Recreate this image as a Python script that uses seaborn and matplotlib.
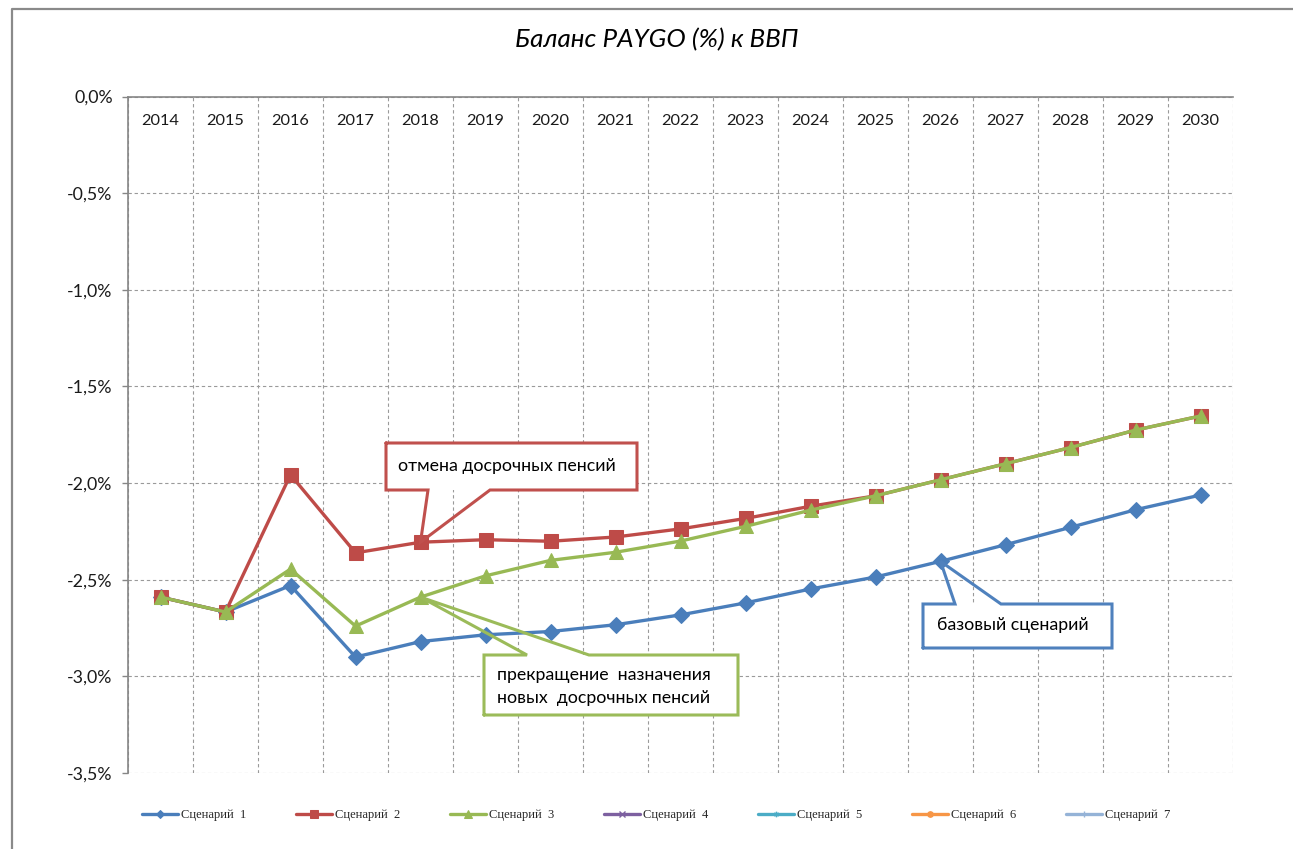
import numpy as np
import pandas as pd
import matplotlib
matplotlib.use("Agg")
import matplotlib.pyplot as plt
import seaborn as sns
from matplotlib.patches import Rectangle
from matplotlib.lines import Line2D

# ---------------- data ----------------
years = [str(y) for y in range(2014, 2031)]
scenario1 = [-2.59, -2.667, -2.53, -2.90, -2.82, -2.785, -2.768, -2.733, -2.682,
             -2.62, -2.548, -2.486, -2.405, -2.319, -2.229, -2.138, -2.062]
scenario2 = [-2.59, -2.667, -1.957, -2.361, -2.306, -2.293, -2.301, -2.279, -2.237,
             -2.183, -2.12, -2.066, -1.983, -1.90, -1.816, -1.726, -1.653]
scenario3 = [-2.59, -2.667, -2.445, -2.74, -2.59, -2.48, -2.40, -2.358, -2.30,
             -2.224, -2.14, -2.066, -1.983, -1.90, -1.816, -1.726, -1.653]
# scenarios 4-7 appear only in the legend (no visible data)
scenario4 = []
scenario5 = []
scenario6 = []
scenario7 = []

series_names = ["Сценарий  1", "Сценарий  2", "Сценарий  3", "Сценарий  4",
                "Сценарий  5", "Сценарий  6", "Сценарий  7"]
y_ticks = [0.0, -0.5, -1.0, -1.5, -2.0, -2.5, -3.0, -3.5]
title = "Баланс PAYGO (%) к ВВП"

# ---------------- style ----------------
sns.set_theme(style="white")
plt.rcParams['font.family'] = ['Lato', 'Open Sans', 'DejaVu Sans']

W, H = 1293, 849
fig = plt.figure(figsize=(W / 100, H / 100), dpi=100)
fig.patch.set_facecolor("white")

def px(x, y):
    return (x / W, 1 - y / H)

ax_l, ax_r, ax_t, ax_b = 128, 1233, 96.5, 773
ax = fig.add_axes([ax_l / W, 1 - ax_b / H, (ax_r - ax_l) / W, (ax_b - ax_t) / H])
ax.set_facecolor("white")

colors = ["#4A7EBB", "#BE4B48", "#98B954", "#7D60A0", "#4BACC6", "#F79646", "#95B3D7"]
markers = ["D", "s", "^", "x", (6, 2, 0), "o", "|"]
msizes = [7.8, 9.5, 10.5, 7, 7, 7, 7]

df = pd.DataFrame({"pos": np.arange(len(years)), "year": years,
                   "s1": scenario1, "s2": scenario2, "s3": scenario3})

for i, col in enumerate(["s1", "s2", "s3"]):
    sns.lineplot(data=df, x="pos", y=col, ax=ax, color=colors[i], marker=markers[i],
                 markersize=msizes[i], markeredgecolor=colors[i], linewidth=2.4,
                 label=series_names[i], zorder=3 + i * 0.1, legend=False)

empty = [scenario4, scenario5, scenario6, scenario7]
for j, vals in enumerate(empty):
    k = j + 3
    ax.plot(list(range(len(vals))), vals, color=colors[k], marker=markers[k],
            markersize=msizes[k], linewidth=2.4, label=series_names[k])

ax.set_xlim(-0.5, len(years) - 0.5)
ax.set_ylim(-3.5, 0)
ax.set_xlabel("")
ax.set_ylabel("")

# x axis at top (0 %), labels just under it
ax.set_xticks(np.arange(len(years)))
ax.set_xticklabels(years)
ax.set_xticks(np.arange(len(years) + 1) - 0.5, minor=True)
ax.tick_params(axis="x", which="major", top=False, bottom=False, labeltop=True,
               labelbottom=False, pad=-29, labelsize=11.8, colors="#1a1a1a")
ax.tick_params(axis="x", which="minor", top=False, bottom=False, length=0)

ax.set_yticks(y_ticks)
ax.set_yticklabels([f"{v:.1f}%".replace(".", ",") for v in y_ticks])
ax.tick_params(axis="y", which="major", left=True, length=4, width=1,
               color="#868686", pad=7, labelsize=12.8, labelcolor="#1a1a1a")

grid_kw = dict(color="#9a9a9a", linewidth=0.8, linestyle=(0, (3, 2.5)))
ax.grid(False)
ax.xaxis.grid(True, which="minor", **grid_kw)
ax.yaxis.grid(True, which="major", **grid_kw)
ax.set_axisbelow(True)

for s in ["bottom", "right"]:
    ax.spines[s].set_visible(False)
for s in ["top", "left"]:
    ax.spines[s].set_color("#868686")
    ax.spines[s].set_linewidth(1.2)

# title
fig.text(*px(657, 40), title, ha="center", va="center", fontsize=18.7,
         style="italic", color="#000000")

# legend
handles, labels = ax.get_legend_handles_labels()
order = [labels.index(n) for n in series_names]
leg = fig.legend([handles[i] for i in order], [labels[i] for i in order],
                 loc="center", bbox_to_anchor=px(656, 815), ncol=7, frameon=False,
                 prop={"family": "Liberation Serif", "size": 9},
                 handlelength=2.9, handletextpad=0.2, columnspacing=4.0,
                 markerscale=0.55)

# callouts
inv = fig.transFigure.inverted()

def tip(i, vals):
    return inv.transform(ax.transData.transform((i, vals[i])))

def callout(box, base, tip_xy, color, side):
    x0, y0, x1, y1 = box
    (fx0, fy0), (fx1, fy1) = px(x0, y0), px(x1, y1)
    fig.patches.append(Rectangle((fx0, fy1), fx1 - fx0, fy0 - fy1, transform=fig.transFigure,
                                 facecolor="white", edgecolor="none", zorder=5))
    ey = y0 if side == "top" else y1
    bl = px(base[0], ey)
    br = px(base[1], ey)
    if side == "bottom":
        pts = [px(x0, y0), px(x1, y0), px(x1, y1), br, tuple(tip_xy), bl, px(x0, y1), px(x0, y0)]
    else:
        pts = [px(x0, y1), px(x1, y1), px(x1, y0), br, tuple(tip_xy), bl, px(x0, y0), px(x0, y1)]
    xs, ys = zip(*pts)
    fig.lines.append(Line2D(xs, ys, transform=fig.transFigure, color=color,
                            linewidth=2.2, zorder=6, solid_joinstyle="miter"))

fs = 12.8
callout((386, 443, 637, 490), (428, 490), tip(4, scenario2), "#C0504D", "bottom")
fig.text(*px(398, 466), "отмена досрочных пенсий", ha="left", va="center",
         fontsize=fs, color="black", zorder=7)

callout((484, 655, 738, 715), (527, 589), tip(4, scenario3), "#9BBB59", "top")
fig.text(*px(497, 675), "прекращение  назначения", ha="left", va="center",
         fontsize=fs, color="black", zorder=7)
fig.text(*px(497, 698), "новых  досрочных пенсий", ha="left", va="center",
         fontsize=fs, color="black", zorder=7)

callout((923, 604, 1112, 648), (955, 1001), tip(12, scenario1), "#4F81BD", "top")
fig.text(*px(937, 625), "базовый сценарий", ha="left", va="center",
         fontsize=fs, color="black", zorder=7)

# outer chart border (top and left visible)
fig.lines.append(Line2D([12 / W, 12 / W, 1.0], [0.0, 1 - 9 / H, 1 - 9 / H],
                        transform=fig.transFigure, color="#8a8a8a", linewidth=1.6))

fig.savefig("out.png", dpi=100, facecolor="white")
